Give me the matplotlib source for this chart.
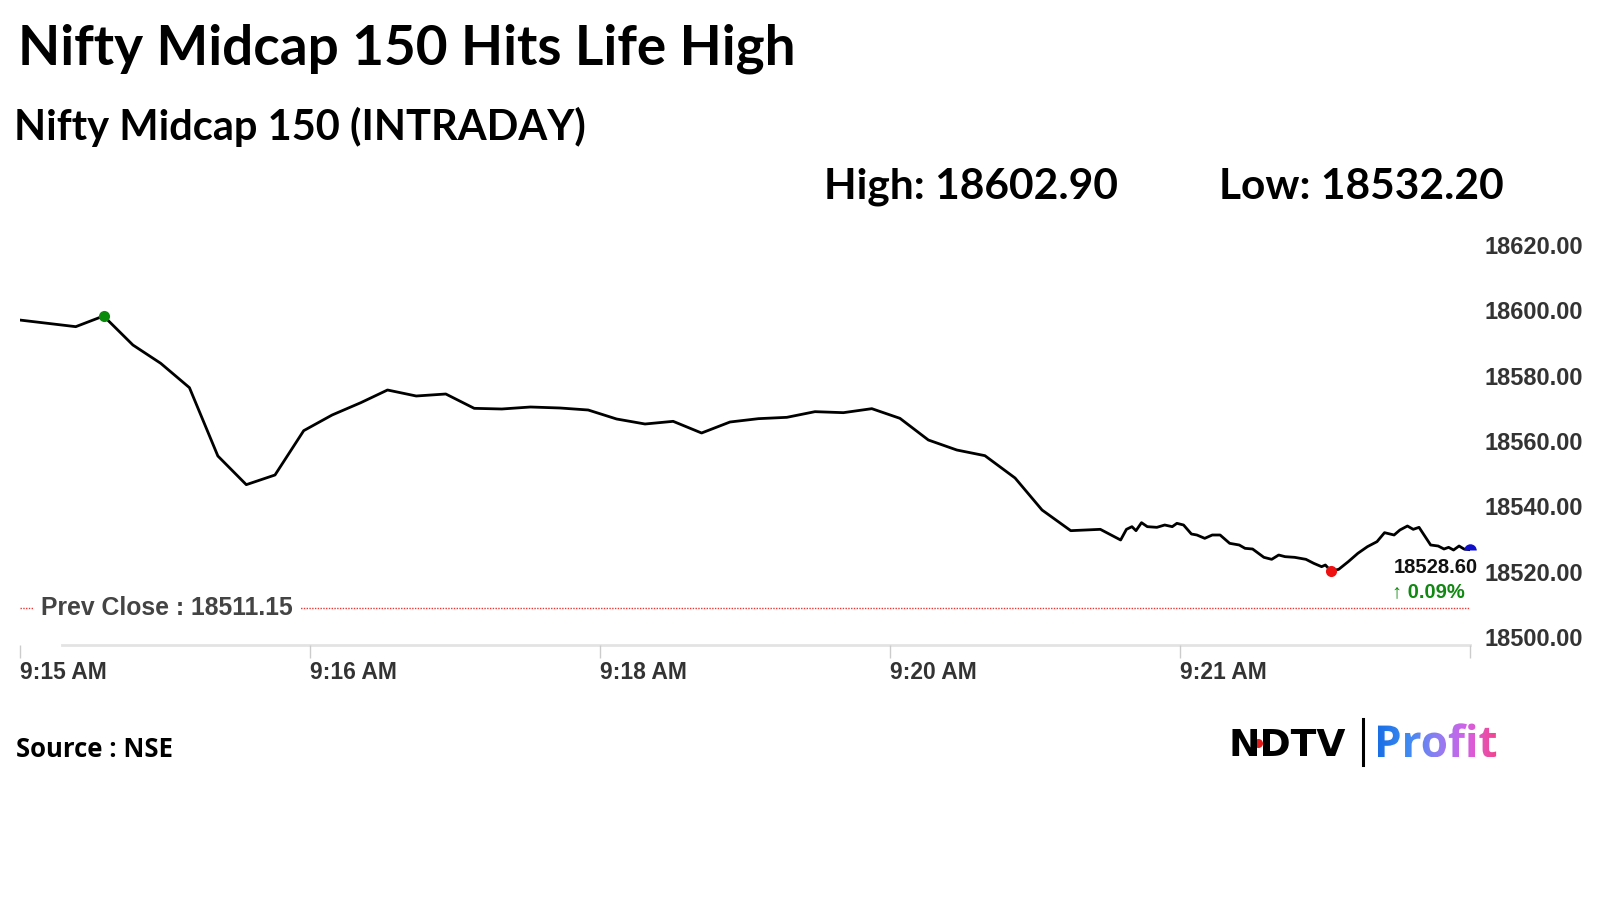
import numpy as np
import matplotlib
matplotlib.use("Agg")
from matplotlib import pyplot as plt
from matplotlib.textpath import TextPath
from matplotlib.patches import PathPatch
from matplotlib.font_manager import FontProperties
from matplotlib.transforms import Affine2D, offset_copy

# position on the (ordinal) time axis, one unit per labelled tick
pos = [0.000, 0.194, 0.290, 0.391, 0.487, 0.586, 0.684, 0.782, 0.881, 0.980,
       1.078, 1.177, 1.269, 1.368, 1.470, 1.568, 1.663, 1.762, 1.864, 1.961,
       2.059, 2.157, 2.254, 2.352, 2.450, 2.548, 2.646, 2.743, 2.841, 2.939,
       3.036, 3.134, 3.232, 3.329, 3.433, 3.526, 3.625, 3.727, 3.797, 3.817,
       3.836, 3.850, 3.869, 3.889, 3.922, 3.949, 3.975, 3.991, 4.014, 4.041,
       4.060, 4.087, 4.113, 4.140, 4.173, 4.206, 4.226, 4.252, 4.291, 4.318,
       4.342, 4.364, 4.397, 4.436, 4.463, 4.490, 4.503, 4.522, 4.549, 4.582,
       4.615, 4.648, 4.681, 4.707, 4.740, 4.760, 4.786, 4.806, 4.826, 4.866,
       4.892, 4.912, 4.928, 4.945, 4.964, 4.981, 5.000]
# index level
vals = [18597.5, 18595.5, 18598.7, 18590.0, 18584.5, 18577.2, 18556.7, 18548.1, 18551.0, 18564.3,
        18569.0, 18572.7, 18576.5, 18574.7, 18575.3, 18571.0, 18570.8, 18571.4, 18571.1, 18570.5,
        18567.8, 18566.3, 18567.1, 18563.6, 18566.9, 18567.9, 18568.3, 18570.0, 18569.7, 18570.9,
        18568.0, 18561.5, 18558.5, 18556.8, 18550.1, 18540.5, 18534.3, 18534.7, 18531.5, 18534.7,
        18535.5, 18534.3, 18536.7, 18535.5, 18535.3, 18536.0, 18535.5, 18536.5, 18536.0, 18533.3,
        18533.0, 18532.0, 18533.0, 18533.0, 18530.5, 18530.0, 18529.0, 18528.8, 18526.3, 18525.7,
        18527.0, 18526.5, 18526.3, 18525.7, 18524.5, 18523.5, 18524.0, 18522.2, 18522.7, 18525.0,
        18527.5, 18529.5, 18531.0, 18533.7, 18533.0, 18534.5, 18535.7, 18534.7, 18535.3, 18530.0,
        18529.7, 18528.8, 18529.3, 18528.5, 18529.7, 18528.8, 18528.6]
prev_close = 18511.15
day_high = 18602.90
day_low = 18532.20

time_ticks = [0, 1, 2, 3, 4, 5]
time_labels = ["9:15 AM", "9:16 AM", "9:18 AM", "9:20 AM", "9:21 AM", ""]
y_ticks = [18500, 18520, 18540, 18560, 18580, 18600, 18620]

title = "Nifty Midcap 150 Hits Life High"
subtitle = "Nifty Midcap 150 (INTRADAY)"
source = "Source : NSE"

W, H = 1600, 900
fig = plt.figure(figsize=(16, 9), dpi=100)
fig.patch.set_facecolor("white")

# ---- chart area
ax = fig.add_axes([19.5 / W, (H - 645) / H, 1450 / W, 400 / H])
ax.set_xlim(0, 5)
ax.set_ylim(18500, 18620)
for s in ax.spines.values():
    s.set_visible(False)

# base line of the x axis (starts a bit to the right, as in the source)
ax.axhline(18500, xmin=0.029, xmax=1, color="#e3e3e3", lw=2, clip_on=False, zorder=1)

# previous close
ax.axhline(prev_close, color="#e53935", lw=1, ls=(0, (1, 1)), zorder=2)
ax.text(0.074, prev_close, f"Prev Close : {prev_close:.2f}", ha="left", va="center",
        fontsize=17.8, fontweight="bold", color="#444444", family="Liberation Sans",
        bbox=dict(boxstyle="square,pad=0.3", fc="white", ec="none"), zorder=3)

ax.plot(pos, vals, color="black", lw=2.0, zorder=4, solid_joinstyle="round")

hi = int(np.argmax(vals))
lo = int(np.argmin(vals))
ax.plot(pos[hi], vals[hi], "o", color="#0a8a0a", ms=8, mew=0, zorder=5)
ax.plot(pos[lo], vals[lo], "o", color="#ee1111", ms=8, mew=0, zorder=5)
ax.plot(pos[-1], vals[-1], "o", color="#1010cc", ms=9, mew=0, fillstyle="top",
        markerfacecoloralt="none", zorder=5, clip_on=False)

pct = (vals[-1] - prev_close) / prev_close * 100
ax.annotate(f"{vals[-1]:.2f}", xy=(pos[-1], vals[-1]), xytext=(8, -18),
            textcoords="offset pixels", ha="right", va="center", fontsize=14.5,
            fontweight="bold", color="#111111", family="Liberation Sans", zorder=6)
ax.annotate(f"\u2191 {pct:.2f}%", xy=(pos[-1], vals[-1]), xytext=(-5, -42),
            textcoords="offset pixels", ha="right", va="center", fontsize=14.5,
            fontweight="bold", color="#118811", family=["Liberation Sans", "DejaVu Sans"], zorder=6)

ax.set_xticks(time_ticks)
ax.set_xticklabels(time_labels, ha="left", fontsize=16.5, fontweight="bold",
                   color="#333333", family="Liberation Sans")
ax.tick_params(axis="x", length=9, width=1, color="#cccccc", pad=2.5)

ax.yaxis.tick_right()
ax.set_yticks(y_ticks)
ax.set_yticklabels([f"{v:.2f}" for v in y_ticks], fontsize=17, fontweight="bold",
                   color="#333333", family="Liberation Sans")
ax.tick_params(axis="y", length=0, pad=11)
# the source packs its y labels slightly tighter than the grid
for v, lab in zip(y_ticks, ax.get_yticklabels()):
    lab.set_transform(offset_copy(lab.get_transform(), fig=fig,
                                  y=(18620 - v) / 20 * 1.35, units="dots"))

# ---- texts around the chart
fig.text(18 / W, 1 - 64 / H, title, ha="left", va="baseline", fontsize=39.5,
         fontweight="bold", family="Lato", color="black")
fig.text(14 / W, 1 - 140 / H, subtitle, ha="left", va="baseline", fontsize=30,
         fontweight="bold", family="Lato", color="black")
fig.text(824 / W, 1 - 199 / H, f"High: {day_high:.2f}", ha="left", va="baseline",
         fontsize=30.6, fontweight="bold", family="Lato", color="black")
fig.text(1219 / W, 1 - 199 / H, f"Low: {day_low:.2f}", ha="left", va="baseline",
         fontsize=30.6, fontweight="bold", family="Lato", color="black")
fig.text(16 / W, 1 - 757 / H, source, ha="left", va="baseline", fontsize=18.5,
         fontweight="bold", family="Open Sans", color="black")

# ---- logo
lax = fig.add_axes([0, 0, 1, 1])
lax.set_xlim(0, W)
lax.set_ylim(0, H)
lax.axis("off")
lax.patch.set_alpha(0)
lax.text(1228, H - 756, "NDTV", ha="left", va="baseline", fontsize=27,
         fontweight="bold", family="DejaVu Sans", color="black")
lax.plot([1258], [H - 743], "o", color="#e21b1b", ms=6.5, mew=0)
lax.plot([1363, 1363], [H - 719, H - 765], color="black", lw=2.2)

tp = TextPath((0, 0), "Profit", size=44, prop=FontProperties(family="Open Sans", weight="bold"))
patch = PathPatch(tp, transform=Affine2D().translate(1374, H - 757) + lax.transData,
                  fc="none", ec="none")
lax.add_patch(patch)
grad = np.linspace(0, 1, 256).reshape(1, -1)
cmap = matplotlib.colors.LinearSegmentedColormap.from_list(
    "profit", ["#1a6fe6", "#3d8bf2", "#8f7df3", "#d660e6", "#f2458a"])
bb = tp.get_extents()
im = lax.imshow(grad, cmap=cmap, aspect="auto",
                extent=[1374 + bb.x0, 1374 + bb.x1, H - 757 + bb.y0, H - 757 + bb.y1])
im.set_clip_path(patch)
lax.set_xlim(0, W)
lax.set_ylim(0, H)

plt.savefig("out.png", dpi=100, facecolor="white")
